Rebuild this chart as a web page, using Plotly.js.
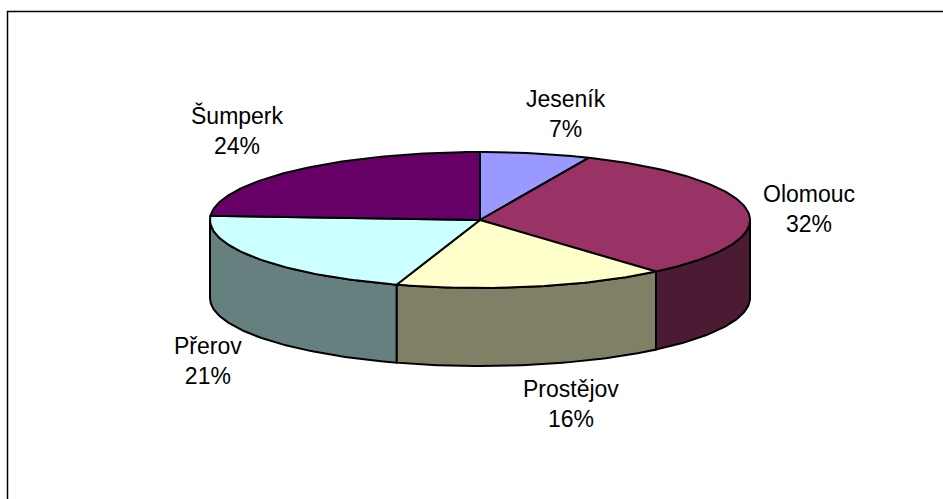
<!DOCTYPE html>
<html><head><meta charset="utf-8">
<script src="https://cdn.plot.ly/plotly-3.0.1.min.js"></script>
<style>html,body{margin:0;padding:0;background:#fff;}#chart{width:943px;height:499px;}</style>
</head><body><div id="chart"></div>
<script>
// ---- data ----
const categories = ['Jeseník', 'Olomouc', 'Prostějov', 'Přerov', 'Šumperk'];
const values = [6.6, 32.1, 16.3, 21.0, 24.0];
const topColors = ['#9999FF', '#993366', '#FFFFCC', '#CCFFFF', '#660066'];
const sideColors = ['#4D4D80', '#4D1A33', '#808066', '#668080', '#330033'];

// ---- geometry (pixel space) ----
const CX = 480, CY = 220, RX = 270, RY = 68, DEPTH = 78;
const labelPos = [[566, 114], [809, 209], [571, 404], [208, 361], [237, 130]];

const total = values.reduce((a, b) => a + b, 0);
function pt(deg, dy) {
  const r = deg * Math.PI / 180;
  return [CX + RX * Math.sin(r), CY - RY * Math.cos(r) + (dy || 0)];
}
function arc(a1, a2, dy) {
  const n = Math.max(2, Math.ceil(Math.abs(a2 - a1)));
  const xs = [], ys = [];
  for (let i = 0; i <= n; i++) {
    const p = pt(a1 + (a2 - a1) * i / n, dy);
    xs.push(p[0]); ys.push(p[1]);
  }
  return [xs, ys];
}
let cum = 0;
const starts = [], ends = [];
values.forEach(v => { starts.push(cum / total * 360); cum += v; ends.push(cum / total * 360); });

const traces = [];
// visible side walls (front half)
values.forEach((v, i) => {
  const a1 = Math.max(starts[i], 90), a2 = Math.min(ends[i], 270);
  if (a2 <= a1) return;
  const [tx, ty] = arc(a1, a2, 0);
  const [bx, by] = arc(a2, a1, DEPTH);
  traces.push({
    type: 'scatter', mode: 'lines',
    x: [...tx, ...bx, tx[0]], y: [...ty, ...by, ty[0]],
    fill: 'toself', fillcolor: sideColors[i],
    line: { color: '#000', width: 2 }, hoverinfo: 'skip', showlegend: false
  });
});
// top faces
values.forEach((v, i) => {
  const [ax, ay] = arc(starts[i], ends[i], 0);
  traces.push({
    type: 'scatter', mode: 'lines',
    x: [CX, ...ax, CX], y: [CY, ...ay, CY],
    fill: 'toself', fillcolor: topColors[i],
    line: { color: '#000', width: 2 }, hoverinfo: 'skip', showlegend: false
  });
});

const annotations = categories.map((c, i) => ({
  x: labelPos[i][0], y: labelPos[i][1], xref: 'x', yref: 'y',
  text: c + '<br>' + Math.round(values[i] / total * 100) + '%',
  showarrow: false, xanchor: 'center', yanchor: 'middle', align: 'center',
  font: { family: 'Liberation Sans, Arial, sans-serif', size: 23, color: '#000' }
}));

const layout = {
  width: 943, height: 499,
  margin: { l: 0, r: 0, t: 0, b: 0 },
  paper_bgcolor: '#fff', plot_bgcolor: '#fff',
  xaxis: { range: [0, 943], visible: false, fixedrange: true },
  yaxis: { range: [499, 0], visible: false, fixedrange: true },
  showlegend: false,
  annotations: annotations,
  shapes: [{
    type: 'rect', xref: 'x', yref: 'y', x0: 7.5, y0: 11.5, x1: 980, y1: 540,
    line: { color: '#000', width: 1.5 }, layer: 'below'
  }]
};
Plotly.newPlot('chart', traces, layout, { staticPlot: true, displayModeBar: false });
</script>
</body></html>
